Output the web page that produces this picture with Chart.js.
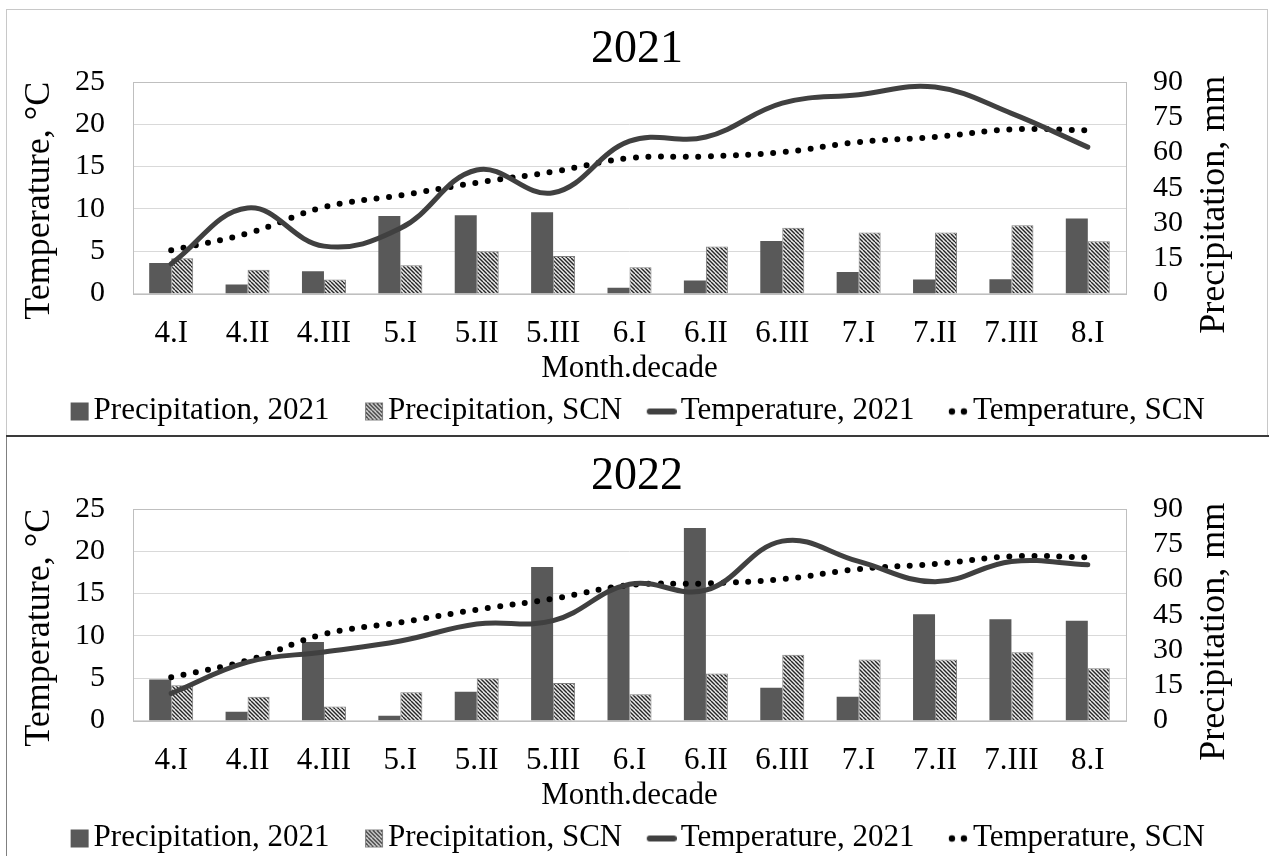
<!DOCTYPE html>
<html>
<head>
<meta charset="utf-8">
<script src="https://cdn.jsdelivr.net/npm/chart.js@4.4.1/dist/chart.umd.min.js"></script>
<style>
  html, body { margin: 0; padding: 0; background: #fff; overflow: hidden; }
  canvas { position: absolute; }
  .box { position: absolute; }
</style>
</head>
<body>
<div class="box" style="left:6px;top:9px;width:1260px;height:426px;border:1px solid #c8c8c8;"></div>
<div class="box" style="left:6px;top:435px;width:1263px;height:2px;background:#3a3a3a;"></div>
<div class="box" style="left:6px;top:437px;width:1px;height:419px;background:#808080;"></div>
<canvas id="chart2021" width="1260" height="426" style="left:7px;top:10px;"></canvas>
<canvas id="chart2022" width="1260" height="426" style="left:7px;top:437px;"></canvas>
<script>
'use strict'

const labels = ['4.I','4.II','4.III','5.I','5.II','5.III','6.I','6.II','6.III','7.I','7.II','7.III','8.I'];

// precipitation, mm (right axis)
const precip2021 = [13, 3.8, 9.5, 33, 33.3, 34.6, 2.4, 5.5, 22.3, 9.1, 6, 6.1, 31.9];
const precip2022 = [17.5, 3.7, 33.4, 2, 12.2, 65.3, 57, 81.9, 13.9, 10.1, 45.2, 43.1, 42.4];
const precipSCN = [15, 10.1, 6, 12, 18, 16, 11.2, 20, 28, 26, 26, 29, 22.2];

// temperature, °C (left axis)
const temp2021 = [3.5, 10.1, 5.6, 7.7, 14.6, 11.9, 18.0, 18.5, 22.5, 23.5, 24.4, 21.3, 17.3];
const temp2022 = [3.2, 6.9, 8.1, 9.4, 11.4, 11.8, 16.1, 15.4, 21.2, 18.8, 16.4, 18.8, 18.4];
const tempSCN = [5.1, 7.1, 10.2, 11.6, 13.1, 14.4, 16.0, 16.2, 16.7, 17.9, 18.5, 19.4, 19.3];

const tempTicks = {min: 0, max: 25, step: 5};
const precipTicks = {min: 0, max: 90, step: 15};

const legendNames = ['Precipitation, 2021', 'Precipitation, SCN', 'Temperature, 2021', 'Temperature, SCN'];

Chart.defaults.font.family = '"Liberation Serif", "Times New Roman", serif';
Chart.defaults.color = '#000';

const DARK = '#595959';
const LINE = '#404040';

const makeHatch = () => {
  const c = document.createElement('canvas');
  c.width = 8; c.height = 8;
  const g = c.getContext('2d');
  g.fillStyle = '#ececec';
  g.fillRect(0, 0, 8, 8);
  g.strokeStyle = '#262626';
  g.lineWidth = 1.4;
  for (const o of [-8, -4, 0, 4, 8]) {
    g.beginPath(); g.moveTo(o, 0); g.lineTo(o + 8, 8); g.stroke();
  }
  return g.createPattern(c, 'repeat');
};
const hatch = makeHatch();

// legend markers (drawn on the right side of a small canvas, close to the text)
const marker = (kind) => {
  const c = document.createElement('canvas');
  c.width = 32; c.height = 32;
  const g = c.getContext('2d');
  if (kind === 'bar') {
    g.fillStyle = DARK; g.fillRect(13, 8, 18, 18);
  } else if (kind === 'hatch') {
    g.fillStyle = hatch; g.fillRect(13, 8, 18, 18);
    g.strokeStyle = '#7f7f7f'; g.lineWidth = 1; g.strokeRect(13.5, 8.5, 17, 17);
  } else if (kind === 'line') {
    g.strokeStyle = LINE; g.lineWidth = 6; g.lineCap = 'round';
    g.beginPath(); g.moveTo(5, 17); g.lineTo(29, 17); g.stroke();
  } else {
    g.fillStyle = '#000';
    for (const x of [15, 27]) { g.beginPath(); g.arc(x, 17, 3.2, 0, Math.PI * 2); g.fill(); }
  }
  return c;
};
const markers = [marker('bar'), marker('hatch'), marker('line'), marker('dots')];

const extras = {
  id: 'extras',
  beforeDatasetsDraw(chart) {
    const {ctx, chartArea: a} = chart;
    ctx.save();
    ctx.strokeStyle = '#bfbfbf';
    ctx.lineWidth = 1;
    ctx.strokeRect(Math.round(a.left) + 0.5, Math.round(a.top) + 0.5, Math.round(a.right - a.left), Math.round(a.bottom - a.top));
    ctx.restore();
  },
  afterDraw(chart) {
    const {ctx, chartArea: a} = chart;
    const mid = (a.top + a.bottom) / 2;
    ctx.save();
    ctx.font = '36px "Liberation Serif"';
    ctx.fillStyle = '#000';
    ctx.textAlign = 'center';
    ctx.textBaseline = 'alphabetic';
    ctx.translate(a.left - 84, mid + 13);
    ctx.rotate(-Math.PI / 2);
    ctx.fillText('Temperature, °C', 0, 0);
    ctx.restore();
    ctx.save();
    ctx.font = '36px "Liberation Serif"';
    ctx.fillStyle = '#000';
    ctx.textAlign = 'center';
    ctx.textBaseline = 'alphabetic';
    ctx.translate(a.right + 98, mid + 17);
    ctx.rotate(-Math.PI / 2);
    ctx.fillText('Precipitation, mm', 0, 0);
    ctx.restore();
  }
};

const buildChart = (id, year, precipYear, tempYear) => {
  const data = {
    labels: labels,
    datasets: [
      {
        type: 'line', label: legendNames[2], data: tempYear, yAxisID: 'y',
        borderColor: LINE, borderWidth: 5, borderCapStyle: 'round', borderJoinStyle: 'round',
        tension: 0.4, pointRadius: 0, fill: false, order: 0
      },
      {
        type: 'line', label: legendNames[3], data: tempSCN, yAxisID: 'y',
        borderColor: '#000', borderWidth: 6, borderCapStyle: 'round', borderDash: [0, 12.5],
        tension: 0.4, pointRadius: 0, fill: false, order: 0
      },
      {
        type: 'bar', label: legendNames[0], data: precipYear, yAxisID: 'y1',
        backgroundColor: DARK, borderWidth: 0,
        categoryPercentage: 0.576, barPercentage: 1, order: 1
      },
      {
        type: 'bar', label: legendNames[1], data: precipSCN, yAxisID: 'y1',
        backgroundColor: hatch, borderColor: '#7f7f7f', borderWidth: 1,
        categoryPercentage: 0.576, barPercentage: 1, order: 1
      }
    ]
  };

  const config = {
    type: 'bar',
    data: data,
    plugins: [extras],
    options: {
      responsive: false,
      animation: false,
      devicePixelRatio: 1,
      layout: {padding: 0},
      plugins: {
        title: {
          display: true, text: year, color: '#000',
          font: {size: 46, weight: 'normal'},
          padding: {top: 12, bottom: 4.8}
        },
        legend: {
          position: 'bottom',
          labels: {
            usePointStyle: true,
            pointStyleWidth: 9,
            padding: 34,
            color: '#000',
            font: {size: 31},
            generateLabels: () => legendNames.map((t, i) => ({
              text: t, pointStyle: markers[i], hidden: false,
              datasetIndex: [2, 3, 0, 1][i], lineWidth: 0, fillStyle: 'transparent', strokeStyle: 'transparent'
            }))
          }
        },
        tooltip: {enabled: false}
      },
      scales: {
        x: {
          grid: {display: false, drawTicks: false},
          border: {display: false},
          ticks: {font: {size: 31}, color: '#000', padding: 22, maxRotation: 0, autoSkip: false},
          title: {display: true, text: 'Month.decade', color: '#000', font: {size: 31}, padding: {top: 0, bottom: -26}},
          afterFit: (s) => { s.height = 67.5; }
        },
        y: {
          position: 'left',
          min: tempTicks.min, max: tempTicks.max,
          ticks: {stepSize: tempTicks.step, padding: 28, font: {size: 30}, color: '#000', autoSkip: false},
          grid: {color: '#d9d9d9', drawTicks: false},
          border: {display: false},
          afterFit: (s) => { s.width = 126; }
        },
        y1: {
          position: 'right',
          min: precipTicks.min, max: precipTicks.max,
          ticks: {stepSize: precipTicks.step, padding: 27, font: {size: 30}, color: '#000', autoSkip: false},
          grid: {display: false, drawTicks: false},
          border: {display: false},
          afterFit: (s) => { s.width = 141; }
        }
      }
    }
  };
  return new Chart(document.getElementById(id), config);
};

const chart2021 = buildChart('chart2021', '2021', precip2021, temp2021);
const chart2022 = buildChart('chart2022', '2022', precip2022, temp2022);
</script>
</body>
</html>
